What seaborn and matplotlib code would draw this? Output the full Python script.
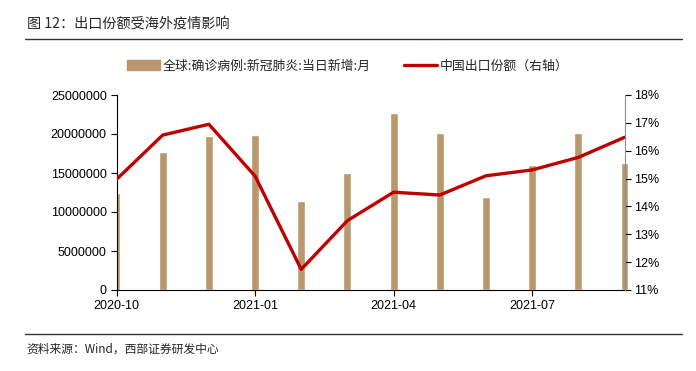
import numpy as np
import matplotlib
matplotlib.use('Agg')
import matplotlib.pyplot as plt
import seaborn as sns
from matplotlib.lines import Line2D
from matplotlib.ticker import FuncFormatter

sns.set_style('ticks')
plt.rcParams['font.family'] = ['Liberation Sans', 'Noto Sans CJK SC', 'DejaVu Sans']

# data
months = ['2020-10', '2020-11', '2020-12', '2021-01', '2021-02', '2021-03',
          '2021-04', '2021-05', '2021-06', '2021-07', '2021-08', '2021-09']
new_cases = [12470000, 17730000, 19740000, 19870000, 11450000, 14960000,
             22740000, 20090000, 11880000, 16030000, 20170000, 16320000]
export_share = [14.97, 16.56, 16.95, 15.09, 11.74, 13.49,
                14.51, 14.41, 15.10, 15.31, 15.76, 16.48]
tick_months = ['2020-10', '2021-01', '2021-04', '2021-07']

bar_label = '全球:确诊病例:新冠肺炎:当日新增:月'
line_label = '中国出口份额（右轴）'
bar_color = '#B9976F'
line_color = '#C00000'
cjk = ['Noto Sans CJK SC', 'DejaVu Sans']

fig = plt.figure(figsize=(6.96, 3.71), dpi=100)
ax = fig.add_axes([116.5 / 696, 1 - 290 / 371, 508 / 696, 195 / 371])

sns.barplot(ax=ax, x=months, y=new_cases, color=bar_color, width=0.17,
            saturation=1)
ax.patches[-1].set_clip_on(False)
ax.set_xlim(0, 11)
ax.set_ylim(0, 25000000)
ax.set_yticks(np.arange(0, 25000001, 5000000))
ax.yaxis.set_major_formatter(FuncFormatter(lambda v, p: f'{int(v)}'))
ax.set_xticks([months.index(m) for m in tick_months])
ax.set_xticklabels(tick_months)

ax2 = ax.twinx()
sns.lineplot(ax=ax2, x=np.arange(len(months)), y=export_share,
             color=line_color, linewidth=2.4)
ax2.set_ylim(11, 18)
ax2.set_yticks(range(11, 19))
ax2.yaxis.set_major_formatter(FuncFormatter(lambda v, p: f'{int(v)}%'))

for a in (ax, ax2):
    a.tick_params(labelsize=9, length=4, width=0.8, colors='black', pad=3)
    a.spines['top'].set_visible(False)
ax.spines['right'].set_visible(False)
ax2.spines['left'].set_visible(False)
ax2.spines['bottom'].set_visible(False)
ax2.spines['right'].set_color('#8C8C8C')
ax.spines['left'].set_color('black')
ax.spines['bottom'].set_color('black')
ax.set_xlabel('')

# legend
handles = [plt.Rectangle((0, 0), 1, 1, color=bar_color),
           Line2D([0], [0], color=line_color, linewidth=2.4)]
fig.legend(handles, [bar_label, line_label], loc='center', ncol=2,
           bbox_to_anchor=(0.5, 1 - 66 / 371), frameon=False,
           prop={'family': cjk, 'size': 9.3}, handlelength=2.5,
           handletextpad=0.25, columnspacing=2.6)

# title, rules and source
fig.text(27 / 696, 1 - 24 / 371, '图 12：出口份额受海外疫情影响', family=cjk,
         fontsize=10.2, va='center', ha='left')
fig.add_artist(Line2D([25 / 696, 682 / 696], [1 - 38.5 / 371] * 2,
                      color='#333333', linewidth=1))
fig.add_artist(Line2D([25 / 696, 682 / 696], [1 - 334 / 371] * 2,
                      color='#333333', linewidth=1))
fig.text(26 / 696, 1 - 349 / 371, '资料来源：Wind，西部证券研发中心',
         family=cjk, fontsize=8.5, va='center', ha='left')

fig.savefig('out.png', dpi=100)
